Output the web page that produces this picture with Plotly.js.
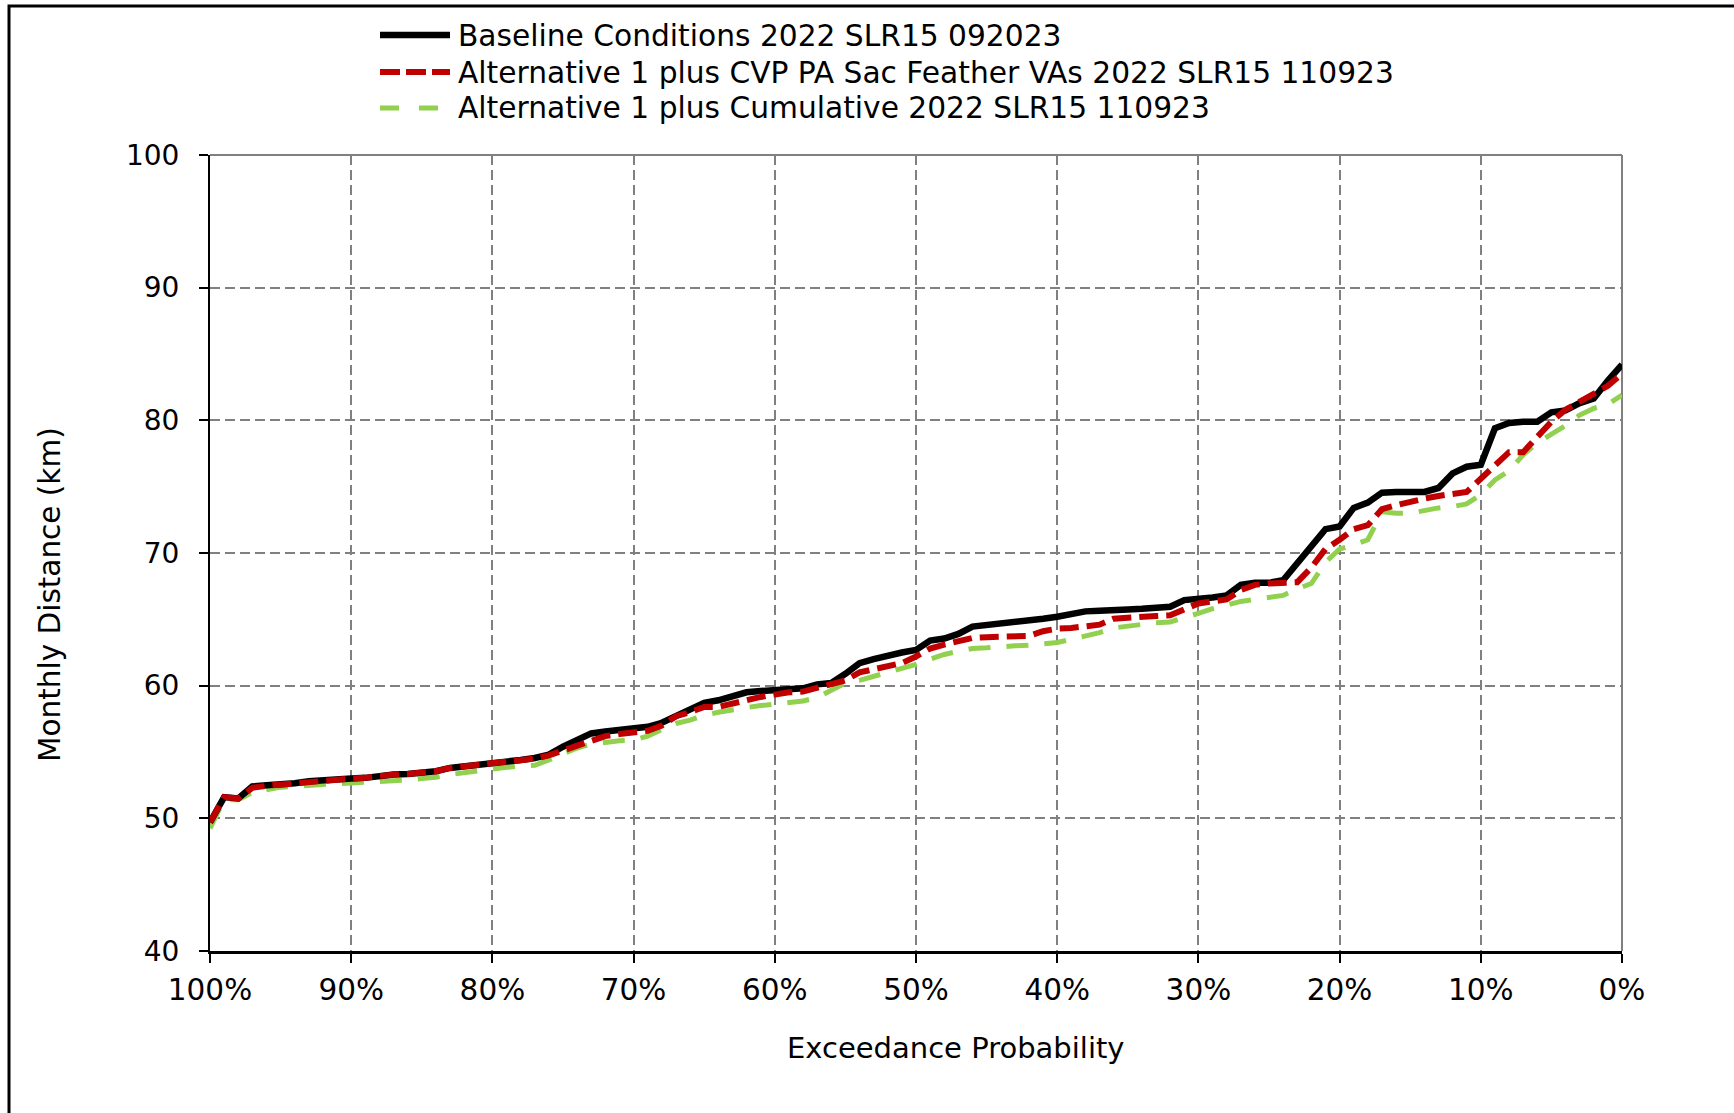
<!DOCTYPE html>
<html>
<head>
<meta charset="utf-8">
<script src="https://cdn.plot.ly/plotly-3.0.1.min.js"></script>
<style>
html,body{margin:0;padding:0;background:#fff;}
#chart{width:1734px;height:1113px;}
</style>
</head>
<body>
<div id="chart"></div>
<script>
// Exceedance probability (%), from 100 down to 0
const exceedance = [100,99,98,97,96,95,94,93,92,91,90,89,88,87,86,85,84,83,82,81,80,79,78,77,76,75,74,73,72,71,70,69,68,67,66,65,64,63,62,61,60,59,58,57,56,55,54,53,52,51,50,49,48,47,46,45,44,43,42,41,40,39,38,37,36,35,34,33,32,31,30,29,28,27,26,25,24,23,22,21,20,19,18,17,16,15,14,13,12,11,10,9,8,7,6,5,4,3,2,1,0];

const baseline = [49.7,51.6,51.5,52.4,52.5,52.55,52.65,52.8,52.9,52.95,53.0,53.05,53.2,53.3,53.35,53.45,53.55,53.8,53.9,54.0,54.1,54.25,54.4,54.55,54.8,55.4,55.85,56.4,56.55,56.65,56.8,56.9,57.2,57.7,58.1,58.7,58.9,59.2,59.5,59.6,59.7,59.75,59.8,60.1,60.2,60.9,61.7,62.0,62.3,62.5,62.7,63.4,63.55,63.9,64.45,64.55,64.7,64.8,64.9,65.05,65.2,65.4,65.6,65.65,65.75,65.75,65.8,65.9,65.95,66.45,66.5,66.65,66.8,67.6,67.75,67.75,67.95,69.2,70.4,71.8,72.0,73.4,73.8,74.55,74.6,74.6,74.6,74.9,76.0,76.5,76.65,79.4,79.8,79.9,79.9,80.6,80.75,81.3,81.65,83.0,84.2];

const alt1CvpPa = [49.7,51.6,51.5,52.3,52.45,52.55,52.65,52.8,52.9,52.95,53.0,53.05,53.2,53.3,53.35,53.45,53.55,53.8,53.9,54.05,54.15,54.25,54.4,54.5,54.75,55.1,55.55,55.9,56.2,56.35,56.45,56.6,57.0,57.7,58.0,58.4,58.4,58.6,58.9,59.15,59.35,59.5,59.55,59.8,60.1,60.4,61.0,61.2,61.4,61.7,62.2,62.8,63.1,63.4,63.6,63.65,63.7,63.7,63.75,64.1,64.3,64.35,64.45,64.6,65.05,65.15,65.2,65.25,65.3,65.7,66.2,66.35,66.5,67.2,67.6,67.7,67.75,67.8,68.9,70.3,71.0,71.8,72.1,73.3,73.6,73.9,74.1,74.3,74.45,74.6,75.6,76.6,77.6,77.6,78.8,79.9,80.8,81.4,82.0,82.6,83.5];

const alt1Cumulative = [49.25,51.4,51.4,51.95,52.15,52.35,52.4,52.5,52.55,52.6,52.65,52.7,52.8,52.85,52.9,53.0,53.1,53.3,53.45,53.6,53.75,53.85,53.95,54.0,54.4,54.9,55.3,55.6,55.75,55.85,55.9,56.2,56.7,57.15,57.4,57.75,58.0,58.2,58.35,58.5,58.6,58.7,58.85,59.1,59.6,60.2,60.4,60.7,61.0,61.3,61.6,62.0,62.35,62.6,62.8,62.85,62.95,63.0,63.05,63.15,63.25,63.5,63.75,64.0,64.35,64.5,64.6,64.75,64.8,65.1,65.45,65.8,66.1,66.35,66.5,66.65,66.8,67.3,67.7,69.3,70.3,70.6,71.0,73.1,73.0,73.0,73.2,73.4,73.5,73.7,74.4,75.5,76.2,77.4,78.3,78.9,79.6,80.4,80.9,81.2,81.9];

const seriesNames = [
  "Baseline Conditions 2022 SLR15 092023",
  "Alternative 1 plus CVP PA Sac Feather VAs 2022 SLR15 110923",
  "Alternative 1 plus Cumulative 2022 SLR15 110923"
];
const xTickVals = [100,90,80,70,60,50,40,30,20,10,0];
const xTickText = ["100%","90%","80%","70%","60%","50%","40%","30%","20%","10%","0%"];
const yTickVals = [40,50,60,70,80,90,100];
const xTitle = "Exceedance Probability";
const yTitle = "Monthly Distance (km)";

const FONT = "DejaVu Sans, Verdana, sans-serif";
const styles = [
  {color:"#000000", width:6.5, dash:"solid"},
  {color:"#C00000", width:6, dash:"19px,8px"},
  {color:"#92D050", width:5, dash:"22px,16px"}
];
const values = [baseline, alt1CvpPa, alt1Cumulative];

// draw order: green at back, then black, red on top
const order = [2,0,1];
const traces = order.map(i => ({
  type:"scatter", mode:"lines", x: exceedance, y: values[i], name: seriesNames[i],
  line:{color:styles[i].color, width:styles[i].width, dash:styles[i].dash},
  showlegend:false, hoverinfo:"x+y"
}));

// plot-area geometry in px (for paper coordinate conversion)
const L=210, R=1622, T=155, B=951;
const px = v => (v-L)/(R-L);
const py = v => (B-v)/(B-T);

const shapes = [];
const annotations = [];
// outer chart frame
shapes.push({type:"rect", xref:"paper", yref:"paper", x0:px(9), x1:px(1760), y0:py(1140), y1:py(6),
  line:{color:"#000", width:3}, fillcolor:"rgba(0,0,0,0)", layer:"below"});
// top and right plot borders (solid grey)
shapes.push({type:"line", xref:"paper", yref:"paper", x0:0, x1:1, y0:1, y1:1, line:{color:"#808080", width:2}, layer:"below"});
shapes.push({type:"line", xref:"paper", yref:"paper", x0:1, x1:1, y0:0, y1:1, line:{color:"#808080", width:2}, layer:"below"});

// legend (manual, to match long line samples)
const legRows = [35, 72, 108];
const legDash = ["solid", "20px,6px", "19px,20px"];
[0,1,2].forEach((i,k) => {
  shapes.push({type:"line", xref:"paper", yref:"paper", x0:px(380), x1:px(450), y0:py(legRows[k]), y1:py(legRows[k]),
    line:{color:styles[i].color, width:styles[i].width, dash:legDash[i]}});
  annotations.push({xref:"paper", yref:"paper", x:px(456), y:py(legRows[k]), xanchor:"left", yanchor:"middle",
    text:seriesNames[i], showarrow:false, font:{family:FONT, size:29.7, color:"#000"}});
});
// axis titles positioned as in reference
annotations.push({xref:"paper", yref:"paper", x:px(955), y:py(1048), xanchor:"center", yanchor:"middle",
  text:xTitle, showarrow:false, font:{family:FONT, size:29, color:"#000"}});
annotations.push({xref:"paper", yref:"paper", x:px(50), y:py(595), xanchor:"center", yanchor:"middle",
  text:yTitle, textangle:-90, showarrow:false, font:{family:FONT, size:29.5, color:"#000"}});

const layout = {
  width:1734, height:1113,
  margin:{l:L, r:1734-R, t:T, b:1113-B, pad:0},
  paper_bgcolor:"#fff", plot_bgcolor:"#fff",
  font:{family:FONT, size:28, color:"#000"},
  showlegend:false,
  xaxis:{
    range:[100,0], tickvals:xTickVals, ticktext:xTickText,
    showline:true, linecolor:"#000", linewidth:3,
    ticks:"outside", ticklen:9, tickwidth:2, tickcolor:"#000",
    showgrid:true, gridcolor:"#808080", gridwidth:2, griddash:"10px,5px",
    zeroline:false, ticklabelstandoff:2,
    tickfont:{family:FONT, size:29.5, color:"#000"}
  },
  yaxis:{
    range:[40,100], tickvals:yTickVals,
    showline:true, linecolor:"#000", linewidth:2,
    ticks:"outside", ticklen:9, tickwidth:2, tickcolor:"#000",
    showgrid:true, gridcolor:"#808080", gridwidth:2, griddash:"10px,5px",
    zeroline:false, ticklabelstandoff:14,
    tickfont:{family:FONT, size:28, color:"#000"}
  },
  shapes:shapes,
  annotations:annotations
};

Plotly.newPlot("chart", traces, layout, {staticPlot:true, displayModeBar:false});
</script>
</body>
</html>
